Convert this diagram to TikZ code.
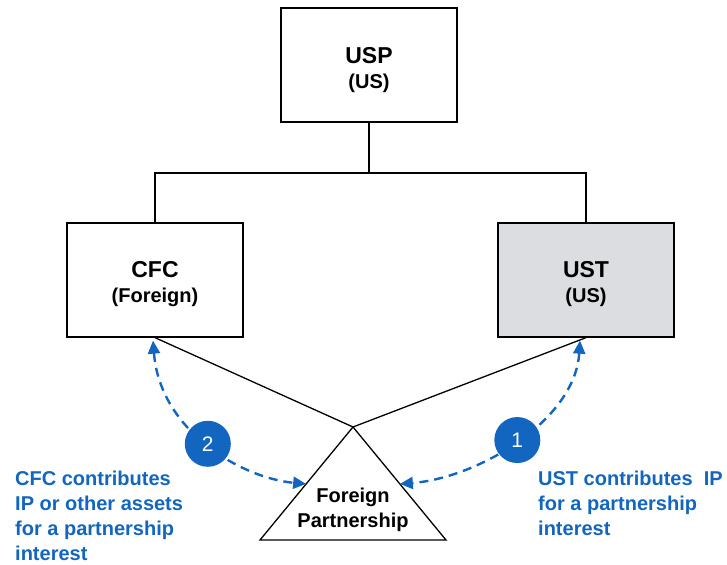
\documentclass[tikz,border=0pt]{standalone}
\usepackage{fontspec}
\setmainfont{Liberation Sans}
\usetikzlibrary{
    arrows.meta,
    positioning,
    calc
}
\definecolor{flowblue}{RGB}{18,102,192}
\definecolor{boxgray}{RGB}{220,221,225}

\begin{document}
\begin{tikzpicture}[
  x=1pt,y=-1pt,
  font=\bfseries\fontsize{20}{25}\selectfont,
  entity/.style={rectangle,draw,line width=1.3pt,align=center,
    minimum width=176pt,minimum height=114pt,inner sep=0pt},
  link/.style={line width=1.3pt},
  flow/.style={{Triangle[length=13pt,width=12pt]}-{Triangle[length=13pt,width=12pt]},
    color=flowblue,line width=2.4pt,dash pattern=on 9pt off 6pt},
  badge/.style={circle,fill=flowblue,text=white,minimum size=46pt,inner sep=0pt,
    font=\fontsize{21}{24}\selectfont},
  note/.style={text=flowblue,align=left,anchor=north west,inner sep=0pt}
]
\useasboundingbox (0,0) rectangle (727,564);
\node[entity] (usp) at (369,65) {\rule{0pt}{26pt}{\fontsize{23}{26}\selectfont USP}\\(US)};
\node[entity] (cfc) at (155,280) {\rule{0pt}{24pt}{\fontsize{23}{26}\selectfont CFC}\\(Foreign)};
\node[entity,fill=boxgray] (ust) at (586,280) {\rule{0pt}{24pt}{\fontsize{23}{26}\selectfont UST}\\(US)};

% ownership
\coordinate (bus) at (369,173);
\draw[link] (usp.south) -- (bus) -| (cfc.north);
\draw[link] (bus) -| (ust.north);

% partnership
\coordinate (apex) at (353,427);
\coordinate (bl) at (260,540);
\coordinate (br) at (446,540);
\draw[link] (apex) -- (bl) -- (br) -- cycle;
\node[align=center] (fp) at (353,510) {Foreign\\Partnership};
\draw[link] (cfc.south) -- (apex) -- (ust.south);

% contributions
\coordinate (lin) at ($(apex)!0.504!(bl)$);
\coordinate (rin) at ($(apex)!0.504!(br)$);
\draw[flow] ([xshift=-2pt,yshift=-3pt]cfc.south) .. controls +(7,90) and +(-65,-6) .. (lin)
  node[badge,pos=0.5] (two) {2};
\draw[flow] ([xshift=-6pt,yshift=-3pt]ust.south) .. controls +(-5,80) and +(78,-6) .. (rin)
  node[badge,pos=0.5] (one) {1};
\node[note] (notecfc) at (15,471) {CFC contributes\\IP or other assets\\for a partnership\\interest};
\node[note] (noteust) at (538,471) {UST contributes\ \ IP\\for a partnership\\interest};
\end{tikzpicture}
\end{document}
